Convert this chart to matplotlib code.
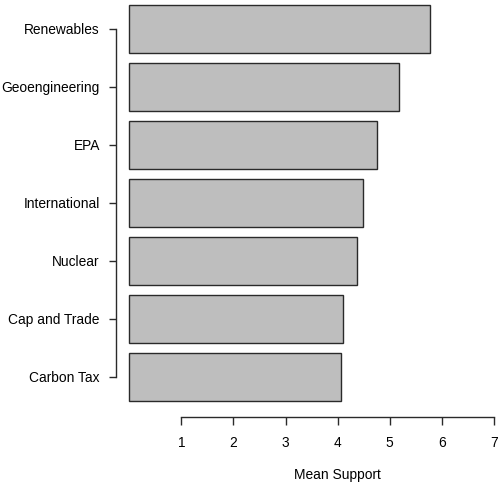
import matplotlib
matplotlib.use("Agg")
import matplotlib.pyplot as plt

categories = ["Carbon Tax", "Cap and Trade", "Nuclear", "International", "EPA", "Geoengineering", "Renewables"]
values = [4.07, 4.11, 4.38, 4.49, 4.76, 5.17, 5.78]
xticks = [1, 2, 3, 4, 5, 6, 7]

plt.rcParams['font.family'] = ['Liberation Sans', 'DejaVu Sans']
W, H = 500, 484
fig = plt.figure(figsize=(W / 100, H / 100), dpi=100)

left_px, right_px = 115.7, 508.4
bottom_px, top_px = 416.7, -11.0
ax = fig.add_axes([left_px / W, (H - bottom_px) / H, (right_px - left_px) / W, (bottom_px - top_px) / H])

ypos = list(range(len(categories)))
ax.barh(ypos, values, height=0.833, color="#BEBEBE", edgecolor="#2a2a2a", linewidth=1.0)

ax.set_xlim(-0.261, 7.28)
ax.set_ylim(-0.69, 6.69)

for s in ["top", "right"]:
    ax.spines[s].set_visible(False)
ax.spines["left"].set_bounds(0, 6)
ax.spines["bottom"].set_bounds(1, 7)
for s in ["left", "bottom"]:
    ax.spines[s].set_linewidth(1.0)
    ax.spines[s].set_color("#2a2a2a")

ax.set_yticks(ypos)
ax.set_yticklabels(categories)
ax.set_xticks(xticks)
ax.set_xticklabels([str(t) for t in xticks])
ax.tick_params(axis="both", length=5.4, width=1.0, color="#2a2a2a", labelsize=9.9, labelcolor="black")
ax.tick_params(axis="y", pad=6.0)
ax.tick_params(axis="x", pad=8.5)
ax.patch.set_visible(False)

fig.text(337.7 / W, 1 - 475 / H, "Mean Support", ha="center", va="center", fontsize=9.9)

fig.savefig("out.png", dpi=100)
